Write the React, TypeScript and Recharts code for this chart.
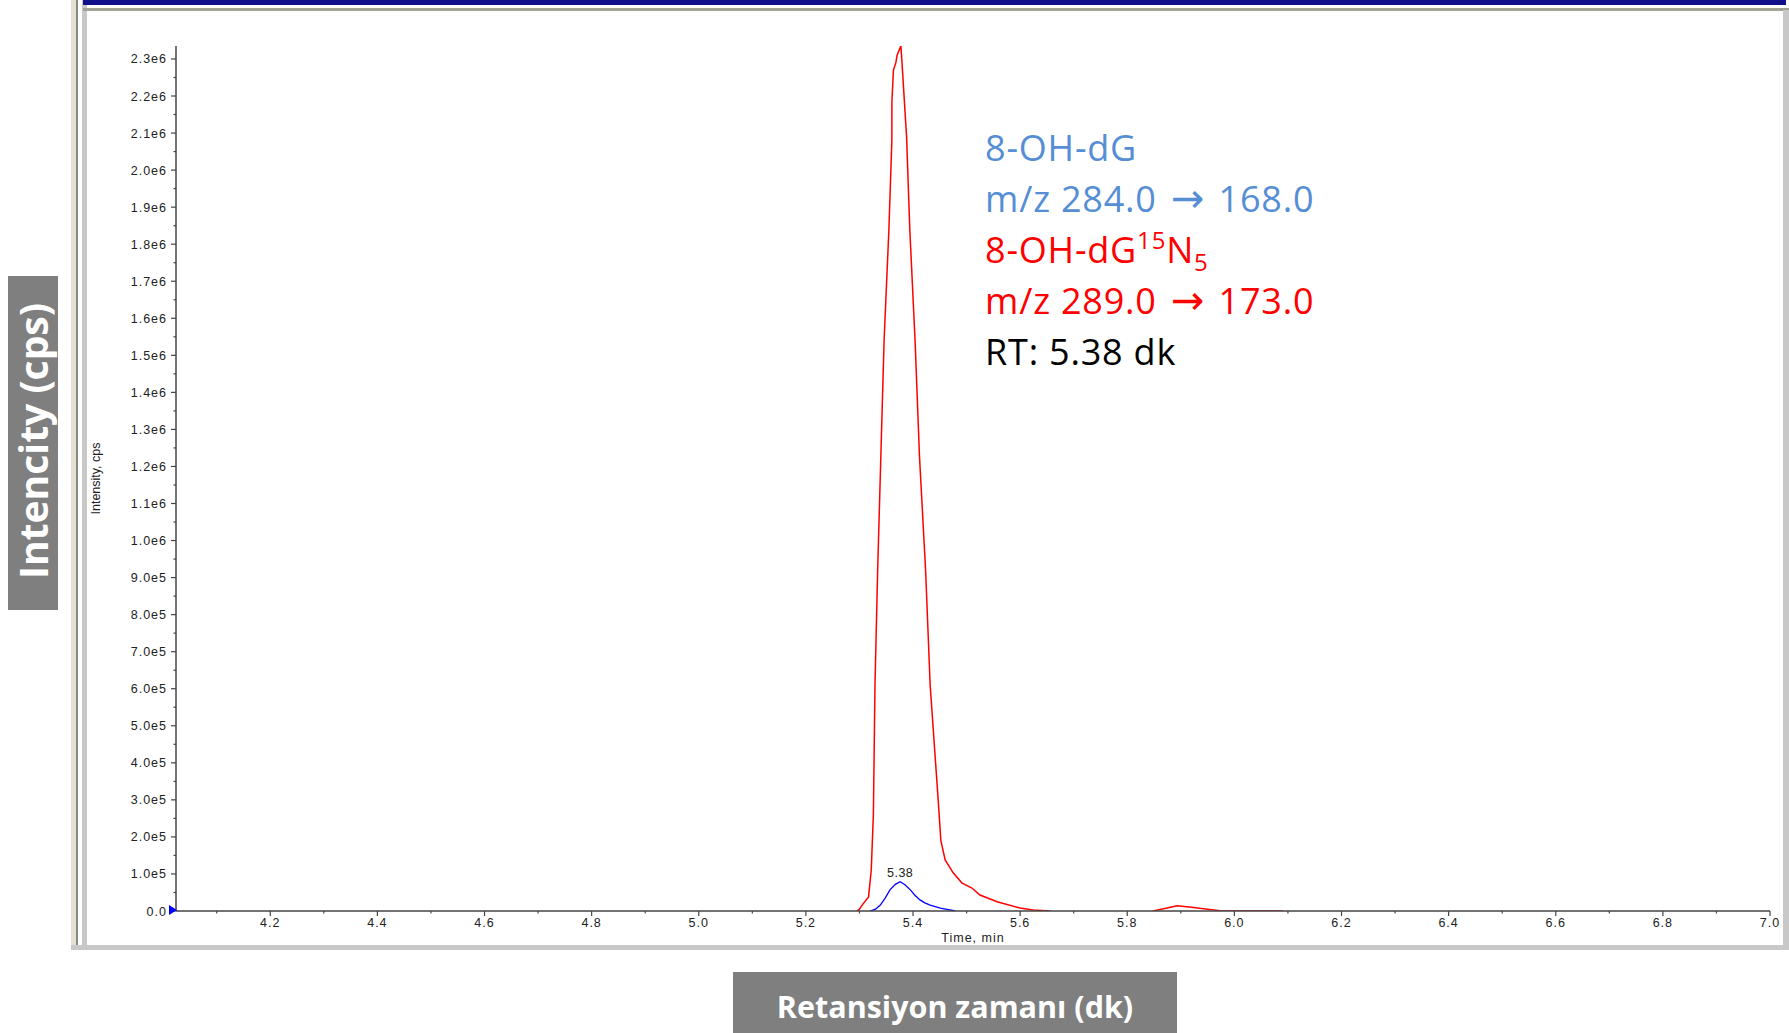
import React from 'react';
import { LineChart, Line, XAxis, YAxis, ReferenceDot } from 'recharts';

// internal standard, 8-OH-dG15N5 (m/z 289.0 -> 173.0)
const redTime = [5.295, 5.3, 5.305, 5.317, 5.322, 5.326, 5.329, 5.334, 5.34, 5.346, 5.355, 5.3605, 5.3606, 5.3635, 5.368, 5.3703, 5.3773, 5.379, 5.382, 5.385, 5.388, 5.394, 5.404, 5.412, 5.4235, 5.432, 5.447, 5.452, 5.46, 5.475, 5.491, 5.51, 5.525, 5.557, 5.6, 5.624, 5.656, 5.75, 5.848, 5.87, 5.893, 5.92, 5.95, 5.973, 6.09];
const redIntensity = [0, 5000, 16000, 38000, 110000, 260000, 610000, 920000, 1230000, 1540000, 1840000, 2080000, 2185000, 2270000, 2290000, 2310000, 2335000, 2300000, 2230000, 2160000, 2090000, 1840000, 1535000, 1230000, 920000, 610000, 300000, 190000, 138000, 103000, 76000, 62000, 43000, 25000, 8000, 3000, 0, null, 0, 7000, 14000, 10000, 5000, 1000, 0];

// analyte, 8-OH-dG (m/z 284.0 -> 168.0)
const blueTime = [5.32, 5.33, 5.339, 5.348, 5.357, 5.367, 5.376, 5.385, 5.395, 5.404, 5.413, 5.422, 5.432, 5.451, 5.479];
const blueIntensity = [0, 5000, 16000, 35000, 57000, 72000, 79000, 71000, 57000, 42000, 30000, 22000, 16000, 8000, 0];

const peak = { t: 5.376, v: 79000, label: '5.38' };

const xMajorTicks = [4.2, 4.4, 4.6, 4.8, 5.0, 5.2, 5.4, 5.6, 5.8, 6.0, 6.2, 6.4, 6.6, 6.8, 7.0];
const xMinorTicks = [4.1, 4.3, 4.5, 4.7, 4.9, 5.1, 5.3, 5.5, 5.7, 5.9, 6.1, 6.3, 6.5, 6.7, 6.9];
const yMajorTicks = [0, 100000, 200000, 300000, 400000, 500000, 600000, 700000, 800000, 900000, 1000000, 1100000, 1200000, 1300000, 1400000, 1500000, 1600000, 1700000, 1800000, 1900000, 2000000, 2100000, 2200000, 2300000];
const yMinorTicks = [50000, 150000, 250000, 350000, 450000, 550000, 650000, 750000, 850000, 950000, 1050000, 1150000, 1250000, 1350000, 1450000, 1550000, 1650000, 1750000, 1850000, 1950000, 2050000, 2150000, 2250000];

const redData = redTime.map((t, i) => ({ t, v: redIntensity[i] }));
const blueData = blueTime.map((t, i) => ({ t, v: blueIntensity[i] }));

const AXIS = '#444';
const TICK_FONT = { fontFamily: '"Liberation Sans", Arial, sans-serif', fontSize: 12.5, letterSpacing: 1, fill: '#222' };

const isMajor = (list: number[], v: number) => list.some((m) => Math.abs(m - v) < 1e-6);

const fmtY = (v: number) => {
  if (v === 0) return '0.0';
  if (v < 1e6) return (v / 1e5).toFixed(1) + 'e5';
  return (v / 1e6).toFixed(1) + 'e6';
};

const XTick = (props: any) => {
  const { x, y, payload } = props;
  const major = isMajor(xMajorTicks, payload.value);
  return (
    <g>
      <line x1={x} x2={x} y1={y} y2={y + (major ? 5 : 2.5)} stroke={AXIS} strokeWidth={1.2} />
      {major && (
        <text x={x} y={y + 16} textAnchor="middle" {...TICK_FONT}>
          {payload.value.toFixed(1)}
        </text>
      )}
    </g>
  );
};

const YTick = (props: any) => {
  const { x, y, payload } = props;
  const major = isMajor(yMajorTicks, payload.value);
  return (
    <g>
      <line x1={x - (major ? 5 : 2.5)} x2={x} y1={y} y2={y} stroke={AXIS} strokeWidth={1.2} />
      {major && (
        <text x={x - 9} y={y + 4.5} textAnchor="end" {...TICK_FONT}>
          {fmtY(payload.value)}
        </text>
      )}
    </g>
  );
};

const box = (style: React.CSSProperties): React.CSSProperties => ({ position: 'absolute', ...style });

const Arrow = () => (
  <span style={{ fontFamily: '"DejaVu Sans", sans-serif', fontSize: 40, letterSpacing: 0, lineHeight: 0, margin: '0 4px' }}>→</span>
);

const ANN_LINE: React.CSSProperties = { height: 51, lineHeight: '51px' };

export default function App() {
  const annFont: React.CSSProperties = { fontFamily: '"Open Sans", sans-serif', fontSize: 36, letterSpacing: 0.8, whiteSpace: 'nowrap' };
  return (
    <div style={{ position: 'absolute', left: 0, top: 0, width: 1789, height: 1033, background: '#fff', overflow: 'hidden' }}>
      {/* window frame */}
      <div style={box({ left: 71, top: 0, width: 5, height: 950, background: '#e4e0d2' })} />
      <div style={box({ left: 76, top: 0, width: 2, height: 950, background: '#8a8a82' })} />
      <div style={box({ left: 82, top: 0, width: 5, height: 950, background: '#c8c8c8' })} />
      <div style={box({ left: 83, top: 0, width: 1703, height: 5, background: '#10108a' })} />
      <div style={box({ left: 83, top: 8, width: 1706, height: 3, background: '#a3a394' })} />
      <div style={box({ left: 1783, top: 10, width: 6, height: 940, background: '#c8c8c8' })} />
      <div style={box({ left: 71, top: 945, width: 1718, height: 5, background: '#c8c8c8' })} />

      <LineChart
        width={1789}
        height={1033}
        margin={{ top: 46, right: 19, bottom: 92, left: 76 }}
        style={{ position: 'absolute', left: 0, top: 0 }}
      >
        <XAxis
          type="number"
          dataKey="t"
          domain={[4.024, 7.0]}
          allowDataOverflow
          ticks={[...xMajorTicks, ...xMinorTicks].sort((a, b) => a - b)}
          interval={0}
          tick={<XTick />}
          tickLine={false}
          tickSize={0}
          tickMargin={0}
          height={30}
          axisLine={{ stroke: AXIS, strokeWidth: 1.5 }}
          label={{ value: 'Time, min', position: 'insideBottom', offset: -1, fontSize: 12.5, letterSpacing: 1, fill: '#222', fontFamily: '"Liberation Sans", Arial, sans-serif' }}
        />
        <YAxis
          type="number"
          dataKey="v"
          domain={[0, 2335000]}
          allowDataOverflow
          ticks={[...yMajorTicks, ...yMinorTicks].sort((a, b) => a - b)}
          interval={0}
          tick={<YTick />}
          tickLine={false}
          tickSize={0}
          tickMargin={0}
          width={100}
          axisLine={{ stroke: AXIS, strokeWidth: 1.5 }}
          label={{ value: 'Intensity, cps', angle: -90, position: 'insideLeft', offset: 20, fontSize: 12.5, fill: '#222', fontFamily: '"Liberation Sans", Arial, sans-serif', style: { textAnchor: 'middle' } }}
        />
        <Line data={redData} dataKey="v" type="linear" stroke="#ff0000" strokeWidth={1.5} dot={false} activeDot={false} isAnimationActive={false} />
        <Line data={blueData} dataKey="v" type="linear" stroke="#0000ff" strokeWidth={1.3} dot={false} activeDot={false} isAnimationActive={false} />
        <ReferenceDot
          x={peak.t}
          y={peak.v}
          r={0}
          stroke="none"
          fill="none"
          label={{ value: peak.label, position: 'top', offset: 5, fontSize: 12.5, letterSpacing: 0.5, fill: '#222', fontFamily: '"Liberation Sans", Arial, sans-serif' }}
        />
      </LineChart>

      {/* origin marker */}
      <div style={box({ left: 169, top: 905, width: 0, height: 0, borderTop: '5px solid transparent', borderBottom: '5px solid transparent', borderLeft: '8px solid #0000ff' })} />

      {/* annotation */}
      <div style={box({ left: 985, top: 122, ...annFont })}>
        <div style={{ ...ANN_LINE, color: '#558ed5' }}>8-OH-dG</div>
        <div style={{ ...ANN_LINE, color: '#558ed5' }}>m/z 284.0 <Arrow /> 168.0</div>
        <div style={{ ...ANN_LINE, color: '#ff0000' }}>
          8-OH-dG
          <span style={{ fontSize: 24, position: 'relative', top: -14, lineHeight: 0 }}>15</span>
          N
          <span style={{ fontSize: 24, position: 'relative', top: 8, lineHeight: 0 }}>5</span>
        </div>
        <div style={{ ...ANN_LINE, color: '#ff0000' }}>m/z 289.0 <Arrow /> 173.0</div>
        <div style={{ ...ANN_LINE, color: '#000' }}>RT: 5.38 dk</div>
      </div>

      {/* outer axis titles */}
      <div style={box({ left: 8, top: 276, width: 50, height: 334, background: '#7f7f7f' })}>
        <div
          style={{
            position: 'absolute', left: 25, top: 165, transform: 'translate(-50%, -50%) rotate(-90deg)',
            color: '#fff', fontFamily: '"Open Sans", sans-serif', fontWeight: 700, fontSize: 39, whiteSpace: 'nowrap', lineHeight: '50px',
          }}
        >
          Intencity (cps)
        </div>
      </div>
      <div
        style={box({
          left: 733, top: 972, width: 444, height: 61, background: '#7f7f7f', color: '#fff',
          fontFamily: '"Open Sans", sans-serif', fontWeight: 700, fontSize: 30.5, textAlign: 'center', lineHeight: '68px', whiteSpace: 'nowrap',
        })}
      >
        Retansiyon zamanı (dk)
      </div>
    </div>
  );
}
